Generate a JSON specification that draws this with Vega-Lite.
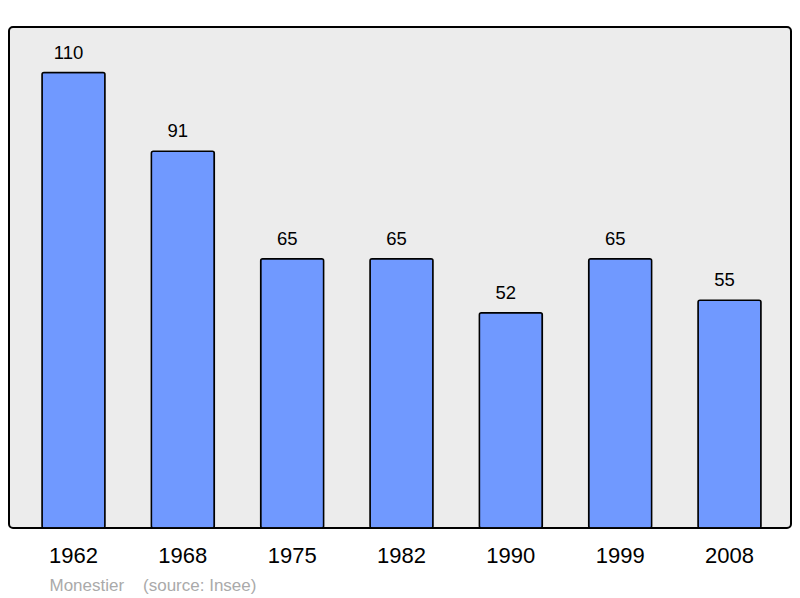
{
  "$schema": "https://vega.github.io/schema/vega-lite/v6.json",
  "width": 782,
  "height": 501,
  "autosize": {"type": "none"},
  "padding": {"left": 9, "top": 27, "right": 9, "bottom": 70},
  "background": "white",
  "config": {
    "view": {"stroke": "#000000", "strokeWidth": 2, "fill": "#ececec", "cornerRadius": 4},
    "font": "Liberation Sans"
  },
  "data": {
    "values": [
      {"year": "1962", "pop": 110},
      {"year": "1968", "pop": 91},
      {"year": "1975", "pop": 65},
      {"year": "1982", "pop": 65},
      {"year": "1990", "pop": 52},
      {"year": "1999", "pop": 65},
      {"year": "2008", "pop": 55}
    ]
  },
  "encoding": {
    "x": {
      "field": "year", "type": "ordinal",
      "scale": {"paddingInner": 0.424, "paddingOuter": 0, "range": [33, 752]},
      "axis": {
        "domain": false, "ticks": false, "labelAngle": 0,
        "labelFontSize": 22, "labelColor": "#000000", "labelPadding": 17, "labelBaseline": "top",
        "title": "Monestier\u00a0\u00a0\u00a0\u00a0(source: Insee)",
        "titleFontSize": 17, "titleFontWeight": "normal", "titleColor": "#aaaaaa",
        "titleAnchor": "start", "titleAlign": "left", "titleX": 40, "titleY": 62, "titleBaseline": "alphabetic"
      }
    },
    "y": {
      "field": "pop", "type": "quantitative",
      "scale": {"domain": [0, 121], "nice": false},
      "axis": null
    }
  },
  "layer": [
    {
      "mark": {"type": "bar", "fill": "#7099ff", "stroke": "#000000", "strokeWidth": 1.5, "cornerRadius": 2}
    },
    {
      "mark": {"type": "text", "baseline": "alphabetic", "dy": -14, "dx": -5, "fontSize": 18.5, "color": "#000000"},
      "encoding": {"text": {"field": "pop", "type": "quantitative"}}
    }
  ]
}
